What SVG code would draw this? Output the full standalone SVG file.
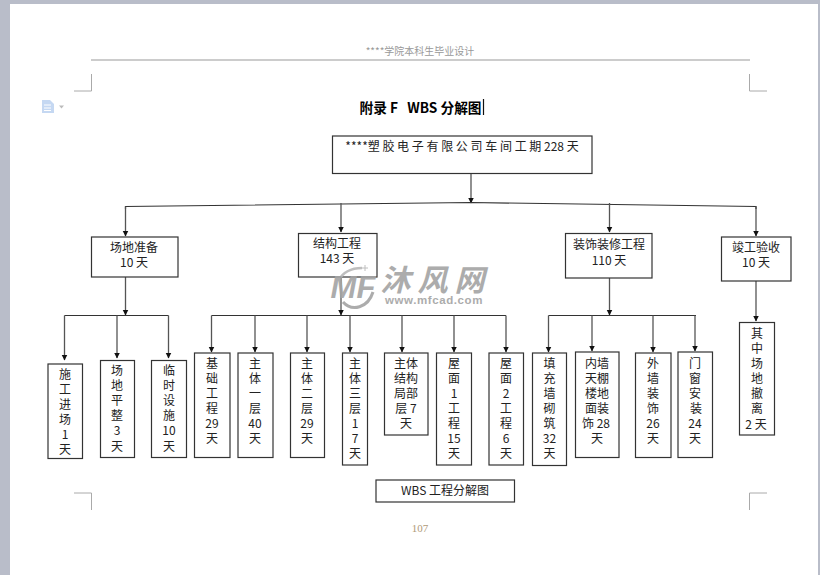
<svg xmlns="http://www.w3.org/2000/svg" width="820" height="575" viewBox="0 0 820 575">
<defs>
<marker id="arr" markerUnits="userSpaceOnUse" markerWidth="7" markerHeight="7" refX="5.500" refY="3" orient="auto"><path d="M0 0L6 3L0 6Z" fill="#111"/></marker>
</defs>
<style>
.b{fill:#fff;stroke:#333;stroke-width:1.2}
text{font-family:"Noto Sans CJK SC","Liberation Sans",sans-serif;font-size:12px;fill:#222;text-anchor:middle}
.c{fill:none;stroke:#333;stroke-width:1.2}
.d{fill:none;stroke:#555;stroke-width:1.3;marker-end:url(#arr)}
.m{fill:none;stroke:#aaa;stroke-width:1}
.w{font-weight:700;font-style:italic;fill:#a4a4a4}
</style>
<rect width="820" height="575" fill="#fff"/>
<rect width="820" height="4" fill="#b9bdc9"/>
<rect width="10" height="575" fill="#b9bdc9"/>
<rect x="818" width="2" height="575" fill="#b9bdc9"/>
<path d="M91 60H750" stroke="#999" stroke-width="1" fill="none"/>
<text x="420" y="55" style="font-size:10px;fill:#999">****学院本科生毕业设计</text>
<path class="m" d="M74 91H91.500V74M767 91H749.500V74M74 493H91.500V510M767 493H749.500V510"/>
<path d="M42 100h8l4 4v9h-12z" fill="#c5d8f2"/><path d="M44 105h7M44 108h7M44 110.500h7" stroke="#fff"/><path d="M59 105.500h5l-2.500 3z" fill="#bbb"/>
<text x="420.500" y="113" style="font-size:13.700px;font-weight:700;fill:#000" xml:space="preserve">附录 F   WBS 分解图</text>
<path d="M483.500 99V115" stroke="#111" stroke-width="1.200"/>

<g id="connectors">
<path class="d" d="M471 173.500V203"/>
<path class="c" d="M125.500 209V206.500L471 202.500L756 206.500V209"/>
<path class="d" d="M125.500 206.500V236"/>
<path class="d" d="M341 203V232"/>
<path class="d" d="M609.500 203V232"/>
<path class="d" d="M756 206.500V236"/>
<path class="d" d="M125.500 277V315"/>
<path class="d" d="M341 277V315"/>
<path class="d" d="M609.500 278V315"/>
<path class="d" d="M756 281V321"/>
<path class="c" d="M64.500 315.500H168.500M211.500 315.500H506M548.500 315.500H696"/>
<path class="d" d="M64.500 315.500V360"/><path class="d" d="M117 315.500V358"/><path class="d" d="M168.500 315.500V358"/>
<path class="d" d="M211.500 315.500V352"/><path class="d" d="M255 315.500V352"/><path class="d" d="M307 315.500V352"/><path class="d" d="M350 315.500V352"/><path class="d" d="M402 315.500V352"/><path class="d" d="M454 315.500V352"/><path class="d" d="M506 315.500V352"/>
<path class="d" d="M548.500 315.500V352"/><path class="d" d="M592 315.500V351"/><path class="d" d="M653 315.500V352"/><path class="d" d="M695 315.500V351"/>
</g>

<g id="n0"><rect class="b" x="332.500" y="136" width="259.500" height="37.500"/><text x="462" y="151" xml:space="preserve">****塑 胶 电 子 有 限 公 司 车 间 工 期 228 天</text></g>
<g id="n1"><rect class="b" x="91.500" y="237" width="86.500" height="40"/><text x="134" y="252">场地准备<tspan x="134" dy="15">10 天</tspan></text></g>
<g id="n2"><rect class="b" x="298.500" y="233.500" width="78.500" height="43.500"/><text x="337" y="248">结构工程<tspan x="337" dy="15">143 天</tspan></text></g>
<g id="n3"><rect class="b" x="565.500" y="233.500" width="86.500" height="44.500"/><text x="609" y="249">装饰装修工程<tspan x="609" dy="16">110 天</tspan></text></g>
<g id="n4"><rect class="b" x="721.500" y="237" width="69.500" height="44"/><text x="756" y="252">竣工验收<tspan x="756" dy="15">10 天</tspan></text></g>

<g id="n5"><rect class="b" x="48" y="364" width="34.500" height="94.500"/><text x="65" y="379">施<tspan x="65" dy="15">工</tspan><tspan x="65" dy="15">进</tspan><tspan x="65" dy="15">场</tspan><tspan x="65" dy="15">1</tspan><tspan x="65" dy="15">天</tspan></text></g>
<g id="n6"><rect class="b" x="100.500" y="360.500" width="34" height="97"/><text x="117" y="375">场<tspan x="117" dy="15">地</tspan><tspan x="117" dy="15">平</tspan><tspan x="117" dy="15">整</tspan><tspan x="117" dy="15">3</tspan><tspan x="117" dy="16">天</tspan></text></g>
<g id="n7"><rect class="b" x="151.500" y="360.500" width="35" height="97"/><text x="169" y="375">临<tspan x="169" dy="15">时</tspan><tspan x="169" dy="15">设</tspan><tspan x="169" dy="15">施</tspan><tspan x="169" dy="15">10</tspan><tspan x="169" dy="16">天</tspan></text></g>
<g id="n8"><rect class="b" x="194.500" y="353" width="35.500" height="104.500"/><text x="212" y="368">基<tspan x="212" dy="15">础</tspan><tspan x="212" dy="15">工</tspan><tspan x="212" dy="15">程</tspan><tspan x="212" dy="15">29</tspan><tspan x="212" dy="15">天</tspan></text></g>
<g id="n9"><rect class="b" x="238" y="353" width="35" height="104.500"/><text x="255" y="368">主<tspan x="255" dy="15">体</tspan><tspan x="255" dy="15">一</tspan><tspan x="255" dy="15">层</tspan><tspan x="255" dy="15">40</tspan><tspan x="255" dy="15">天</tspan></text></g>
<g id="n10"><rect class="b" x="290.500" y="353" width="34" height="104.500"/><text x="307" y="368">主<tspan x="307" dy="15">体</tspan><tspan x="307" dy="15">二</tspan><tspan x="307" dy="15">层</tspan><tspan x="307" dy="15">29</tspan><tspan x="307" dy="15">天</tspan></text></g>
<g id="n11"><rect class="b" x="342.500" y="353" width="25" height="112"/><text x="355" y="368">主<tspan x="355" dy="15">体</tspan><tspan x="355" dy="15">三</tspan><tspan x="355" dy="15">层</tspan><tspan x="355" dy="15">1</tspan><tspan x="355" dy="15">7</tspan><tspan x="355" dy="15">天</tspan></text></g>
<g id="n12"><rect class="b" x="384.500" y="353" width="43.500" height="82"/><text x="406" y="368">主体<tspan x="406" dy="15">结构</tspan><tspan x="406" dy="15">局部</tspan><tspan x="406" dy="15">层 7</tspan><tspan x="406" dy="15">天</tspan></text></g>
<g id="n13"><rect class="b" x="436.500" y="353" width="35" height="112"/><text x="454" y="368">屋<tspan x="454" dy="15">面</tspan><tspan x="454" dy="15">1</tspan><tspan x="454" dy="15">工</tspan><tspan x="454" dy="15">程</tspan><tspan x="454" dy="15">15</tspan><tspan x="454" dy="15">天</tspan></text></g>
<g id="n14"><rect class="b" x="489" y="353" width="34.500" height="112"/><text x="506" y="368">屋<tspan x="506" dy="15">面</tspan><tspan x="506" dy="15">2</tspan><tspan x="506" dy="15">工</tspan><tspan x="506" dy="15">程</tspan><tspan x="506" dy="15">6</tspan><tspan x="506" dy="15">天</tspan></text></g>
<g id="n15"><rect class="b" x="532.500" y="353" width="34" height="112.500"/><text x="549.500" y="368">填<tspan x="549.500" dy="15">充</tspan><tspan x="549.500" dy="15">墙</tspan><tspan x="549.500" dy="15">砌</tspan><tspan x="549.500" dy="15">筑</tspan><tspan x="549.500" dy="15">32</tspan><tspan x="549.500" dy="15">天</tspan></text></g>
<g id="n16"><rect class="b" x="575.500" y="352" width="43.500" height="105.500"/><text x="597" y="368">内墙<tspan x="597" dy="15">天棚</tspan><tspan x="597" dy="15">楼地</tspan><tspan x="597" dy="15">面装</tspan><tspan x="596" dy="15">饰 28</tspan><tspan x="597" dy="15">天</tspan></text></g>
<g id="n17"><rect class="b" x="635.500" y="353" width="35.500" height="104.500"/><text x="653" y="368">外<tspan x="653" dy="15">墙</tspan><tspan x="653" dy="15">装</tspan><tspan x="653" dy="15">饰</tspan><tspan x="653" dy="15">26</tspan><tspan x="653" dy="15">天</tspan></text></g>
<g id="n18"><rect class="b" x="678" y="352" width="34.500" height="105.500"/><text x="695" y="368">门<tspan x="695" dy="15">窗</tspan><tspan x="695" dy="15">安</tspan><tspan x="696" dy="15">装</tspan><tspan x="695" dy="15">24</tspan><tspan x="695" dy="15">天</tspan></text></g>
<g id="n19"><rect class="b" x="739.500" y="322.500" width="35" height="112.500"/><text x="757" y="338">其<tspan x="757" dy="15">中</tspan><tspan x="757" dy="15">场</tspan><tspan x="757" dy="15">地</tspan><tspan x="757" dy="15">撤</tspan><tspan x="757" dy="15">离</tspan><tspan x="756" dy="16">2 天</tspan></text></g>
<g id="caption"><rect class="b" x="376" y="480" width="138.500" height="22"/><text x="445" y="495">WBS 工程分解图</text></g>
<text x="420" y="532" style="font-size:11px;fill:#b09a78;font-family:'Liberation Serif',serif">107</text>

<g id="watermark" opacity="0.9">
<path d="M338 281C343 272 352 268 362 268" fill="none" stroke="#b8b8b8" stroke-width="2.500"/>
<path d="M343 302C352 312 368 308 373 292" fill="none" stroke="#a4a4a4" stroke-width="3"/>
<path d="M362 268h6M365 265v6" stroke="#b8b8b8"/>
<text class="w" x="353" y="298" style="font-size:31px;font-family:'Liberation Sans',sans-serif">MF</text>
<text class="w" x="436" y="291" style="font-size:30px;letter-spacing:7px">沐风网</text>
<text x="434" y="304" style="font-size:11.500px;font-weight:700;fill:#a4a4a4;font-family:'Liberation Sans',sans-serif;letter-spacing:.6px">www.mfcad.com</text>
</g>
</svg>
